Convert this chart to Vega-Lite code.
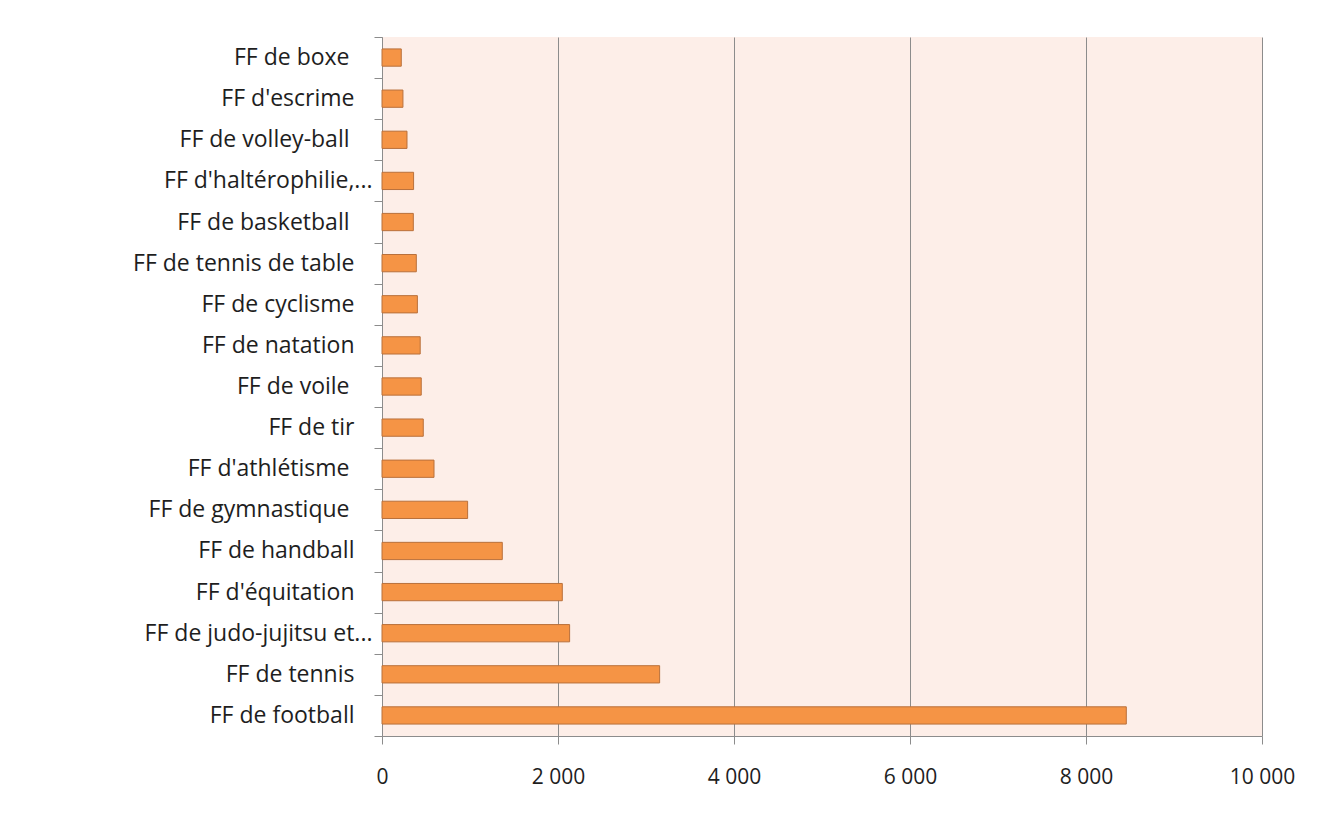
{
  "$schema": "https://vega.github.io/schema/vega-lite/v6.json",
  "autosize": "none",
  "width": 880,
  "height": 699,
  "padding": {"left": 382, "top": 37, "right": 62, "bottom": 78},
  "background": "white",
  "data": {
    "values": [
      {"federation": "FF de boxe", "licences": 219},
      {"federation": "FF d'escrime", "licences": 238},
      {"federation": "FF de volley-ball", "licences": 284},
      {"federation": "FF d'haltérophilie,...", "licences": 359},
      {"federation": "FF de basketball", "licences": 356},
      {"federation": "FF de tennis de table", "licences": 390},
      {"federation": "FF de cyclisme", "licences": 402},
      {"federation": "FF de natation", "licences": 434},
      {"federation": "FF de voile", "licences": 446},
      {"federation": "FF de tir", "licences": 469},
      {"federation": "FF d'athlétisme", "licences": 591},
      {"federation": "FF de gymnastique", "licences": 973},
      {"federation": "FF de handball", "licences": 1367},
      {"federation": "FF d'équitation", "licences": 2049},
      {"federation": "FF de judo-jujitsu et...", "licences": 2132},
      {"federation": "FF de tennis", "licences": 3155},
      {"federation": "FF de football", "licences": 8458}
    ]
  },
  "mark": {"type": "bar", "color": "#f59445", "stroke": "#b9703b", "strokeWidth": 1, "height": {"band": 0.42}},
  "encoding": {
    "y": {
      "field": "federation",
      "type": "nominal",
      "sort": null,
      "scale": {"paddingInner": 0, "paddingOuter": 0},
      "axis": {
        "title": null,
        "tickBand": "extent",
        "tickSize": 8,
        "tickColor": "#8c8c8c",
        "domainColor": "#8c8c8c",
        "labelFont": "Open Sans",
        "labelFontSize": 23,
        "labelColor": "#1e1e1e",
        "labelLimit": 380,
        "labelPadding": {"expr": "indexof(datum.label, '...') >= 0 ? 2 : (indexof(['FF de boxe','FF de volley-ball','FF de voile','FF de basketball','FF d\\'athlétisme','FF de gymnastique'], datum.label) >= 0 ? 25 : 20)"}
      }
    },
    "x": {
      "field": "licences",
      "type": "quantitative",
      "scale": {"domain": [0, 10000]},
      "axis": {
        "title": null,
        "values": [0, 2000, 4000, 6000, 8000, 10000],
        "labelExpr": "replace(format(datum.value, ',d'), ',', ' ')",
        "tickSize": 8,
        "tickColor": "#8c8c8c",
        "domainColor": "#8c8c8c",
        "gridColor": "#8c8c8c",
        "gridWidth": 1,
        "labelFont": "Open Sans",
        "labelFontSize": 21,
        "labelColor": "#1e1e1e",
        "labelPadding": 22,
        "labelFlush": false
      }
    }
  },
  "config": {
    "view": {"fill": "#fdeee8", "stroke": null},
    "axisY": {"grid": false}
  }
}
